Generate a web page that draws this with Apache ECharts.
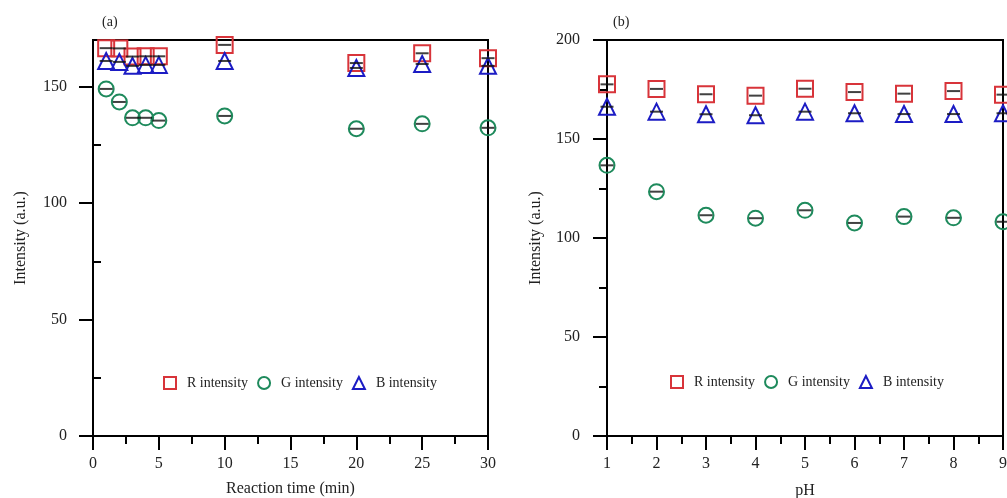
<!DOCTYPE html>
<html><head><meta charset="utf-8">
<script src="https://cdn.jsdelivr.net/npm/echarts@6/dist/echarts.min.js"></script>
<style>html,body{margin:0;padding:0;background:#fff}#c{width:1007px;height:498px}</style>
</head><body><div id="c"></div>
<script>
const timeX = [1, 2, 3, 4, 5, 10, 20, 25, 30];
const timeR = [166.5, 166.4, 162.9, 163.0, 163.0, 167.9, 160.1, 164.3, 162.2];
const timeG = [149.0, 143.4, 136.6, 136.6, 135.4, 137.4, 131.9, 134.0, 132.3];
const timeB = [161.0, 160.6, 158.9, 159.3, 159.3, 161.0, 158.0, 159.7, 158.9];
const phX = [1, 2, 3, 4, 5, 6, 7, 8, 9];
const phR = [177.6, 175.3, 172.6, 171.9, 175.4, 173.7, 172.9, 174.2, 172.4];
const phG = [136.7, 123.4, 111.5, 110.0, 114.0, 107.6, 110.8, 110.2, 108.2];
const phB = [166.3, 163.8, 162.5, 162.0, 163.8, 163.0, 162.6, 162.6, 163.0];
const leftMajorTicks = [0, 50, 100, 150];
const leftMinorTicks = [25, 75, 125];
const names = ['R intensity', 'G intensity', 'B intensity'];
const colors = ['#d8343a', '#1e8a5c', '#1c1cc4'];
const symbols = ['rect', 'circle', 'triangle'];
const sizes = [16, 15, 16];

const FONT = 'Liberation Serif';
const zip = (xs, ys) => xs.map((x, i) => [x, ys[i]]);

function seriesFor(xIdx, yIdx, xs, ysList) {
  const out = [];
  ysList.forEach((ys, k) => {
    out.push({
      name: names[k], type: 'scatter', xAxisIndex: xIdx, yAxisIndex: yIdx,
      data: zip(xs, ys), symbol: symbols[k], symbolSize: sizes[k], clip: false,
      itemStyle: {color: 'rgba(255,255,255,0)', borderColor: colors[k], borderWidth: 2, opacity: 1},
      emphasis: {disabled: true}, z: 3
    });
    out.push({
      name: 'err' + k, type: 'scatter', xAxisIndex: xIdx, yAxisIndex: yIdx,
      data: zip(xs, ys), symbol: 'rect', symbolSize: [13, 2], clip: false,
      itemStyle: {color: '#111'}, emphasis: {disabled: true}, z: 4
    });
  });
  return out;
}

const lineStyle = {color: '#000', width: 2};
function axis(extra) {
  return Object.assign({
    type: 'value',
    axisLine: {show: true, onZero: false, lineStyle: lineStyle},
    axisTick: {show: true, inside: false, length: 14, lineStyle: lineStyle},
    minorTick: {show: true, splitNumber: 2, length: 8, lineStyle: lineStyle},
    splitLine: {show: false},
    axisLabel: {color: '#222', fontFamily: FONT, fontSize: 16, margin: 20},
    nameTextStyle: {color: '#222', fontFamily: FONT, fontSize: 16}
  }, extra);
}

function legendFor(left, top) {
  return {
    left: left, top: top, itemWidth: 12, itemHeight: 12, itemGap: 9,
    textStyle: {fontFamily: FONT, fontSize: 14, color: '#222', padding: [0, 0, 0, 6]},
    data: names.map((n, k) => ({name: n, icon: symbols[k],
      itemStyle: {color: 'rgba(255,255,255,0)', borderColor: colors[k], borderWidth: 2}}))
  };
}

const chart = echarts.init(document.getElementById('c'), null, {renderer: 'canvas'});
chart.setOption({
  animation: false,
  backgroundColor: '#fff',
  title: [
    {text: '(a)', left: 97, top: 10, textStyle: {fontFamily: FONT, fontSize: 14, fontWeight: 'normal', color: '#222'}},
    {text: '(b)', left: 608, top: 10, textStyle: {fontFamily: FONT, fontSize: 14, fontWeight: 'normal', color: '#222'}}
  ],
  legend: [legendFor(158, 371), legendFor(665, 370)],
  grid: [
    {left: 93, top: 40, width: 395, height: 396, show: true, borderColor: '#000', borderWidth: 2, containLabel: false, outerBoundsMode: 'none'},
    {left: 607, top: 40, width: 396, height: 396, show: true, borderColor: '#000', borderWidth: 2, containLabel: false, outerBoundsMode: 'none'}
  ],
  xAxis: [
    axis({gridIndex: 0, min: 0, max: 30, interval: 5,
      name: 'Reaction time (min)', nameLocation: 'middle', nameGap: 45}),
    axis({gridIndex: 1, min: 1, max: 9, interval: 1,
      name: 'pH', nameLocation: 'middle', nameGap: 47})
  ],
  yAxis: [
    axis({gridIndex: 0, min: 0, max: 170,
      axisTick: {show: true, inside: false, length: 14, lineStyle: lineStyle, customValues: leftMajorTicks},
      minorTick: {show: false},
      axisLabel: {color: '#222', fontFamily: FONT, fontSize: 16, margin: 26, customValues: leftMajorTicks},
      name: 'Intensity (a.u.)', nameLocation: 'middle', nameGap: 64}),
    axis({gridIndex: 0, min: 0, max: 170,
      axisLine: {show: false},
      axisTick: {show: true, inside: false, length: 8, lineStyle: lineStyle, customValues: leftMinorTicks},
      minorTick: {show: false},
      axisLabel: {show: false}}),
    axis({gridIndex: 1, min: 0, max: 200, interval: 50,
      axisLabel: {color: '#222', fontFamily: FONT, fontSize: 16, margin: 27},
      name: 'Intensity (a.u.)', nameLocation: 'middle', nameGap: 63})
  ],
  series: [].concat(seriesFor(0, 0, timeX, [timeR, timeG, timeB]), seriesFor(1, 2, phX, [phR, phG, phB]))
});
</script></body></html>
